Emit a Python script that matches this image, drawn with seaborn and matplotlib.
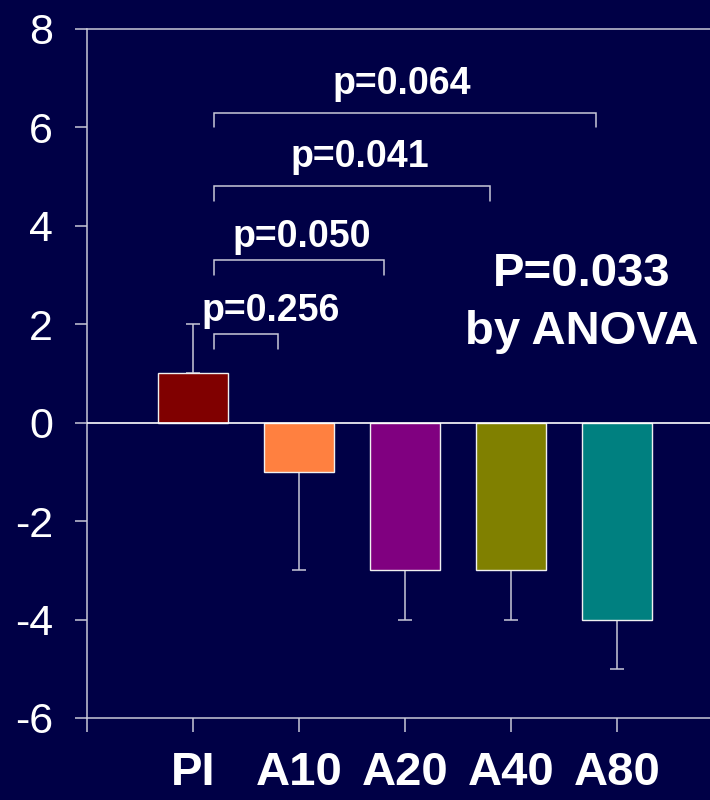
import matplotlib
matplotlib.use("Agg")
import matplotlib.pyplot as plt
import seaborn as sns
import pandas as pd

# Change from baseline by treatment group
groups = ["PI", "A10", "A20", "A40", "A80"]
means = [1, -1, -3, -3, -4]
sems = [1, 2, 1, 1, 1]
bar_colors = ["#800000", "#FF8040", "#800080", "#808000", "#008080"]

# Pairwise comparisons against PI
pair_targets = ["A10", "A20", "A40", "A80"]
pair_pvalues = ["p=0.256", "p=0.050", "p=0.041", "p=0.064"]
bracket_levels = [1.8, 3.3, 4.8, 6.3]
label_x = [0.73, 1.03, 1.57, 1.97]
label_y = [2.07, 3.58, 5.20, 6.67]

anova_lines = ["P=0.033", "by ANOVA"]
anova_y = [2.78, 1.60]
y_ticks = [-6, -4, -2, 0, 2, 4, 6, 8]

BG = "#000046"
LINE = "#C8C8D8"
FONT = ["Liberation Sans", "DejaVu Sans"]

sns.set_theme(style="white")
plt.rcParams["font.family"] = FONT

df = pd.DataFrame({"group": groups, "mean": means, "sem": sems})

fig = plt.figure(figsize=(7.1, 8), dpi=100, facecolor=BG)
ax = fig.add_axes([87 / 710, 1 - 718 / 800, 1 - 87 / 710, 689 / 800])
ax.set_facecolor(BG)

sns.barplot(data=df, x="group", y="mean", hue="group", palette=bar_colors,
            order=groups, hue_order=groups, width=0.66, legend=False,
            saturation=1, edgecolor="#F0F0F0", linewidth=1.0, errorbar=None,
            ax=ax, zorder=3)

# one-sided error bars pointing away from zero
pos = list(range(len(groups)))
lower = [s if m < 0 else 0 for m, s in zip(means, sems)]
upper = [s if m >= 0 else 0 for m, s in zip(means, sems)]
ax.errorbar(pos, means, yerr=[lower, upper], fmt="none", ecolor=LINE,
            elinewidth=1.1, capsize=5, capthick=1.1, zorder=2)

ax.axhline(0, color="white", lw=1.2, zorder=4)

# comparison brackets
for target, level, lx, ly, txt in zip(pair_targets, bracket_levels, label_x, label_y, pair_pvalues):
    x0 = 0 + 0.2
    x1 = groups.index(target) - 0.2
    ax.plot([x0, x0, x1, x1], [level - 0.3, level, level, level - 0.3],
            color=LINE, lw=1.1, zorder=5, solid_joinstyle="miter")
    ax.text(lx, ly, txt, ha="center", va="baseline", color="white",
            fontsize=27, fontweight="bold", zorder=6)

for line, yy in zip(anova_lines, anova_y):
    ax.text(3.67, yy, line, ha="center", va="baseline", color="white",
            fontsize=34, fontweight="bold", zorder=6)

ax.set_ylim(-6, 8)
ax.set_xlim(-1, 4.877)
ax.set_yticks(y_ticks)
ax.set_yticklabels([str(v) for v in y_ticks])
ax.set_xticks([-1] + pos)
ax.set_xticklabels([""] + groups, fontweight="bold", fontsize=34)
ax.set_xlabel("")
ax.set_ylabel("")

for side in ["left", "bottom", "top"]:
    ax.spines[side].set_visible(True)
    ax.spines[side].set_color(LINE)
    ax.spines[side].set_linewidth(1.1)
ax.spines["right"].set_visible(False)

ax.tick_params(axis="y", which="major", left=True, length=8.6, width=1.1,
               color=LINE, pad=16, labelsize=31, labelcolor="white")
ax.tick_params(axis="x", which="major", bottom=True, length=10, width=1.1,
               color=LINE, pad=14, labelcolor="white")
ax.grid(False)

fig.savefig("out.png", dpi=100, facecolor=BG)
